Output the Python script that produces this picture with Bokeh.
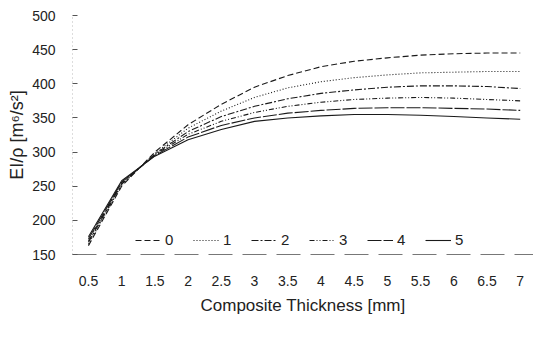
from bokeh.plotting import figure
from bokeh.models import Range1d, FixedTicker, Legend, LegendItem
from bokeh.embed import file_html
from bokeh.resources import INLINE

# ---- data ----
thickness = [0.5, 1.0, 1.5, 2.0, 2.5, 3.0, 3.5, 4.0, 4.5, 5.0, 5.5, 6.0, 6.5, 7.0]
x_tick_labels = ["0.5", "1", "1.5", "2", "2.5", "3", "3.5", "4", "4.5", "5", "5.5", "6", "6.5", "7"]
y_ticks = [150, 200, 250, 300, 350, 400, 450, 500]

series_names = ["0", "1", "2", "3", "4", "5"]
s0 = [163, 250, 300, 340, 370, 395, 412, 425, 433, 438, 442, 444, 445, 445]
s1 = [165, 252, 298, 335, 360, 380, 394, 403, 409, 413, 416, 417, 418, 418]
s2 = [168, 253, 297, 330, 352, 367, 378, 386, 391, 395, 397, 397, 396, 393]
s3 = [170, 255, 296, 326, 345, 358, 367, 373, 377, 379, 380, 379, 377, 375]
s4 = [173, 256, 295, 322, 339, 350, 357, 361, 364, 365, 365, 364, 363, 361]
s5 = [176, 258, 294, 318, 333, 345, 350, 353, 355, 355, 354, 352, 350, 348]
series = [s0, s1, s2, s3, s4, s5]

dashes = ["6 3", "1 2", "7 2 2 2", "5 2 1 2 1 2", "14 2", "solid"]
FONT = "Liberation Sans"

p = figure(width=533, height=345, output_backend="svg", toolbar_location=None,
           x_range=Range1d(0.26, 7.2), y_range=Range1d(150, 500),
           min_border_left=72, min_border_right=0, min_border_top=15, min_border_bottom=91)
p.outline_line_color = None
p.grid.visible = False
p.background_fill_color = "white"
p.border_fill_color = "white"

items = []
for name, ys, dash in zip(series_names, series, dashes):
    r = p.line(thickness, ys, line_color="#1a1a1a", line_width=1.1, line_dash=dash)
    items.append(LegendItem(label=name, renderers=[r]))

# x axis
p.xaxis.ticker = FixedTicker(ticks=thickness)
p.xaxis.major_label_overrides = {t: l for t, l in zip(thickness, x_tick_labels)}
p.xaxis.major_tick_in = 0
p.xaxis.major_tick_out = 0
p.xaxis.minor_tick_line_color = None
p.xaxis.axis_line_color = "#777777"
p.xaxis.axis_line_dash = "24 10"
p.xaxis.major_label_standoff = 21
p.xaxis.axis_label = "Composite Thickness [mm]"
p.xaxis.axis_label_standoff = 7
p.xaxis.axis_label_text_font = FONT
p.xaxis.axis_label_text_font_style = "normal"
p.xaxis.axis_label_text_font_size = "17px"
p.xaxis.axis_label_text_color = "#222222"
p.xaxis.major_label_text_font = FONT
p.xaxis.major_label_text_font_size = "14px"
p.xaxis.major_label_text_color = "#222222"

# y axis
p.yaxis.ticker = FixedTicker(ticks=y_ticks)
p.yaxis.major_tick_in = 5
p.yaxis.major_tick_out = 0
p.yaxis.major_tick_line_color = "#555555"
p.yaxis.minor_tick_line_color = None
p.yaxis.axis_line_color = "#bbbbbb"
p.yaxis.axis_line_dash = "1 3"
p.yaxis.major_label_standoff = 17
p.yaxis.axis_label = "EI/ρ [m⁶/s²]"
p.yaxis.axis_label_standoff = 2
p.yaxis.axis_label_text_font = FONT
p.yaxis.axis_label_text_font_style = "normal"
p.yaxis.axis_label_text_font_size = "18px"
p.yaxis.axis_label_text_color = "#222222"
p.yaxis.major_label_text_font = FONT
p.yaxis.major_label_text_font_size = "14px"
p.yaxis.major_label_text_color = "#222222"

legend = Legend(items=items, orientation="horizontal", location=(63, 6),
                glyph_width=26, glyph_height=14, label_standoff=4, spacing=8,
                padding=2, margin=0, border_line_color=None,
                background_fill_alpha=0.0,
                label_text_font=FONT, label_text_font_size="15px",
                label_text_color="#222222", label_height=16)
p.add_layout(legend, "center")

open("out.html", "w").write(file_html(p, INLINE))
